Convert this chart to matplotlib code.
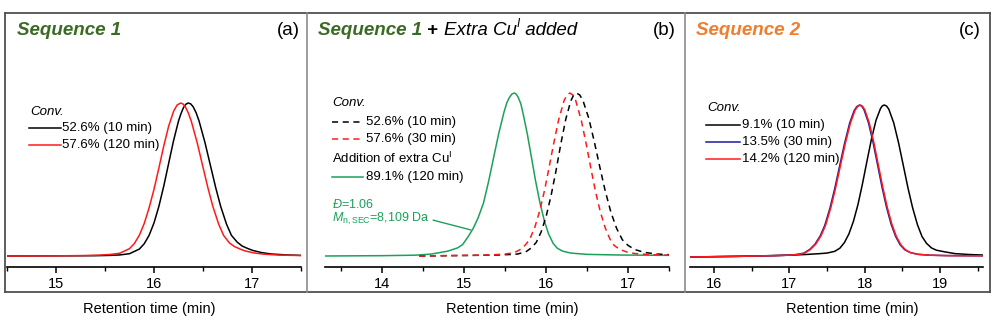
import matplotlib
matplotlib.use("Agg")
import matplotlib.pyplot as plt
from matplotlib.lines import Line2D

plt.rcParams['font.family'] = ['Liberation Sans', 'DejaVu Sans']
plt.rcParams['mathtext.fontset'] = 'custom'
plt.rcParams['mathtext.rm'] = 'Liberation Sans'
plt.rcParams['mathtext.it'] = 'Liberation Sans:italic'
plt.rcParams['mathtext.bf'] = 'Liberation Sans:bold'

# ---------------- data ----------------
# Panel (a): Sequence 1
a_black_x = [14.5, 15.0, 15.4, 15.55, 15.65, 15.75, 15.85, 15.90, 15.95, 16.00, 16.05, 16.10,
             16.15, 16.20, 16.25, 16.275, 16.30, 16.325, 16.35, 16.375, 16.40, 16.43, 16.46,
             16.52, 16.57, 16.63, 16.68, 16.74, 16.79, 16.85, 16.90, 16.96, 17.01, 17.1, 17.2,
             17.35, 17.5]
a_black_y = [0.0, 0.001, 0.002, 0.004, 0.007, 0.015, 0.045, 0.080, 0.135, 0.216, 0.325, 0.458,
             0.607, 0.755, 0.882, 0.930, 0.969, 0.992, 1.0, 0.994, 0.975, 0.936, 0.882,
             0.742, 0.607, 0.446, 0.325, 0.208, 0.135, 0.09, 0.065, 0.048, 0.036, 0.022, 0.013,
             0.007, 0.004]
a_red_x = [14.5, 15.0, 15.3, 15.45, 15.55, 15.65, 15.75, 15.80, 15.85, 15.90, 15.95, 16.00,
           16.05, 16.10, 16.15, 16.20, 16.235, 16.27, 16.295, 16.32, 16.35, 16.38, 16.44, 16.49,
           16.55, 16.60, 16.66, 16.71, 16.77, 16.82, 16.88, 16.93, 17.02, 17.12, 17.27, 17.5]
a_red_y = [0.0, 0.001, 0.003, 0.006, 0.01, 0.018, 0.048, 0.082, 0.135, 0.212, 0.315, 0.436,
           0.576, 0.72, 0.85, 0.946, 0.986, 1.0, 0.994, 0.975, 0.935, 0.882, 0.742, 0.607,
           0.446, 0.325, 0.208, 0.135, 0.085, 0.062, 0.045, 0.033, 0.02, 0.012, 0.006, 0.003]
a_labels = ["52.6% (10 min)", "57.6% (120 min)"]

# Panel (b): Sequence 1 + extra Cu(I)
b_green_x = [13.3, 14.0, 14.4, 14.6, 14.8, 14.92, 14.98, 15.05, 15.11, 15.17, 15.235, 15.30,
             15.36, 15.42, 15.485, 15.52, 15.55, 15.58, 15.61, 15.635, 15.66, 15.69, 15.715,
             15.77, 15.82, 15.87, 15.925, 15.98, 16.03, 16.085, 16.135, 16.2, 16.3, 16.5,
             16.9, 17.5]
b_green_y = [0.0, 0.002, 0.005, 0.012, 0.03, 0.05, 0.07, 0.12, 0.17, 0.235, 0.325, 0.463,
             0.607, 0.749, 0.882, 0.94, 0.971, 0.993, 1.0, 0.993, 0.972, 0.935, 0.882,
             0.749, 0.607, 0.463, 0.325, 0.212, 0.135, 0.078, 0.048, 0.03, 0.018, 0.01,
             0.006, 0.004]
b_red_x = [14.45, 15.0, 15.3, 15.5, 15.6, 15.65, 15.70, 15.75, 15.80, 15.86, 15.92, 15.98,
           16.03, 16.09, 16.15, 16.22, 16.255, 16.29, 16.325, 16.36, 16.43, 16.49, 16.55,
           16.60, 16.66, 16.72, 16.78, 16.83, 16.9, 17.0, 17.1, 17.3, 17.5]
b_red_y = [0.0, 0.004, 0.006, 0.012, 0.02, 0.03, 0.045, 0.07, 0.103, 0.174, 0.274, 0.402,
           0.528, 0.685, 0.83, 0.955, 0.988, 1.0, 0.988, 0.955, 0.83, 0.685, 0.528,
           0.402, 0.274, 0.174, 0.103, 0.065, 0.04, 0.022, 0.014, 0.008, 0.005]
b_black_x = [14.45, 15.0, 15.4, 15.55, 15.65, 15.75, 15.82, 15.88, 15.94, 16.0, 16.06, 16.12,
             16.18, 16.24, 16.30, 16.335, 16.37, 16.41, 16.45, 16.52, 16.59, 16.66, 16.72,
             16.79, 16.86, 16.93, 17.0, 17.08, 17.2, 17.35, 17.5]
b_black_y = [0.0, 0.003, 0.006, 0.009, 0.012, 0.025, 0.05, 0.084, 0.149, 0.243, 0.37, 0.522,
             0.69, 0.84, 0.95, 0.987, 1.0, 0.988, 0.953, 0.846, 0.697, 0.535, 0.402,
             0.27, 0.17, 0.10, 0.065, 0.04, 0.022, 0.012, 0.008]
b_labels = ["52.6% (10 min)", "57.6% (30 min)", "89.1% (120 min)"]

# Panel (c): Sequence 2
c_black_x = [15.68, 16.5, 17.0, 17.2, 17.4, 17.5, 17.6, 17.67, 17.73, 17.79, 17.85, 17.91,
             17.97, 18.03, 18.09, 18.15, 18.21, 18.235, 18.26, 18.29, 18.32, 18.385, 18.45,
             18.51, 18.575, 18.635, 18.70, 18.76, 18.82, 18.885, 18.95, 19.05, 19.2, 19.4,
             19.57]
c_black_y = [0.0, 0.006, 0.012, 0.016, 0.022, 0.026, 0.037, 0.058, 0.095, 0.152, 0.235, 0.345,
             0.482, 0.632, 0.778, 0.9, 0.978, 0.995, 1.0, 0.993, 0.972, 0.882, 0.749,
             0.607, 0.452, 0.325, 0.212, 0.135, 0.09, 0.06, 0.045, 0.035, 0.022, 0.016,
             0.013]
c_blue_x = [15.68, 16.3, 16.8, 16.99, 17.09, 17.19, 17.27, 17.34, 17.41, 17.47, 17.54, 17.60,
            17.67, 17.73, 17.80, 17.86, 17.895, 17.93, 17.96, 17.99, 18.05, 18.11, 18.17,
            18.23, 18.29, 18.35, 18.41, 18.47, 18.53, 18.6, 18.7, 18.85, 19.1, 19.57]
c_blue_y = [0.0, 0.004, 0.009, 0.012, 0.016, 0.025, 0.05, 0.085, 0.14, 0.209, 0.325, 0.447,
            0.607, 0.743, 0.882, 0.964, 0.99, 1.0, 0.992, 0.969, 0.882, 0.755, 0.607, 0.458,
            0.325, 0.216, 0.135, 0.08, 0.048, 0.03, 0.018, 0.012, 0.009, 0.008]
c_red_x = [15.68, 16.3, 16.8, 17.0, 17.1, 17.2, 17.28, 17.35, 17.42, 17.48, 17.55, 17.61,
           17.68, 17.74, 17.81, 17.87, 17.905, 17.94, 17.97, 18.0, 18.06, 18.12, 18.18, 18.24,
           18.30, 18.36, 18.42, 18.48, 18.54, 18.6, 18.7, 18.85, 19.1, 19.57]
c_red_y = [0.0, 0.004, 0.009, 0.012, 0.016, 0.025, 0.05, 0.085, 0.14, 0.209, 0.325, 0.447,
           0.607, 0.743, 0.882, 0.964, 0.99, 1.0, 0.992, 0.969, 0.882, 0.755, 0.607, 0.458,
           0.325, 0.216, 0.135, 0.08, 0.048, 0.03, 0.018, 0.012, 0.009, 0.008]
c_labels = ["9.1% (10 min)", "13.5% (30 min)", "14.2% (120 min)"]

# ---------------- styling ----------------
W, H = 996, 324
DKGREEN = '#3a6b24'
ORANGE = '#f07d2c'
GREEN = '#1ca05a'
RED = '#ff1a1a'
BLUE = '#1a1aa0'
LW = 1.1

fig = plt.figure(figsize=(W / 100, H / 100), dpi=100)


def fx(x):
    return x / W


def fy(y):
    return 1 - y / H


def make_ax(x0, x1, xlim, ylim, major, minor):
    ax = fig.add_axes([fx(x0), fy(267), fx(x1 - x0), (267 - 13) / H])
    ax.set_xlim(*xlim)
    ax.set_ylim(*ylim)
    for s in ['left', 'right', 'top']:
        ax.spines[s].set_visible(False)
    ax.spines['bottom'].set_linewidth(1.2)
    ax.set_yticks([])
    ax.set_xticks(major)
    ax.set_xticks(minor, minor=True)
    ax.tick_params(axis='x', which='major', direction='out', length=4, width=1.1,
                   labelsize=10.5, pad=3.5)
    ax.tick_params(axis='x', which='minor', direction='out', length=3, width=1.0)
    ax.patch.set_alpha(0)
    return ax


def fline(x0, x1, y, color, ls='-'):
    fig.add_artist(Line2D([fx(x0), fx(x1)], [fy(y), fy(y)], transform=fig.transFigure,
                          color=color, lw=LW, linestyle=ls))


def ftext(x, y, s, **kw):
    kw.setdefault('fontsize', 9.5)
    kw.setdefault('va', 'center')
    return fig.text(fx(x), fy(y), s, **kw)


# Panel a
axa = make_ax(7, 301, (14.5, 17.5), (-11 / 153, 1 + 90 / 153),
              [15, 16, 17], [14.5, 15.5, 16.5, 17.5])
axa.plot(a_black_x, a_black_y, color='black', lw=LW)
axa.plot(a_red_x, a_red_y, color=RED, lw=LW)

# Panel b
axb = make_ax(325, 669, (13.3, 17.5), (-11 / 163, 1 + 80 / 163),
              [14, 15, 16, 17], [13.5, 14.5, 15.5, 16.5, 17.5])
axb.plot(b_green_x, b_green_y, color=GREEN, lw=LW)
axb.plot(b_black_x, b_black_y, color='black', lw=LW, dashes=(4, 3))
axb.plot(b_red_x, b_red_y, color=RED, lw=LW, dashes=(4, 3))
axb.annotate('', xy=(15.08, 0.16), xytext=(14.62, 0.22),
             arrowprops=dict(arrowstyle='-', color=GREEN, lw=1.0, shrinkA=0, shrinkB=0))

# Panel c
axc = make_ax(690, 983, (15.68, 19.57), (-10 / 152, 1 + 92 / 152),
              [16, 17, 18, 19], [16.5, 17.5, 18.5, 19.5])
axc.plot(c_black_x, c_black_y, color='black', lw=LW)
axc.plot(c_blue_x, c_blue_y, color=BLUE, lw=LW)
axc.plot(c_red_x, c_red_y, color=RED, lw=LW)

# Frames
FR = '#505050'
for (xs, ys) in [([5, 990], [13, 13]), ([5, 990], [292, 292]), ([5, 5], [13, 292]),
                 ([990, 990], [13, 292])]:
    fig.add_artist(Line2D([fx(v) for v in xs], [fy(v) for v in ys],
                          transform=fig.transFigure, color=FR, lw=1.3))
for xd in [307, 685]:
    fig.add_artist(Line2D([fx(xd), fx(xd)], [fy(13), fy(292)],
                          transform=fig.transFigure, color='#8a8a8a', lw=1.2))

# Titles
TS = 13.5
TY = 35  # baseline pixel
ftext(17, TY, 'Sequence 1', fontsize=TS, fontweight='bold', fontstyle='italic',
      color=DKGREEN, va='baseline')
ftext(300, TY, '(a)', fontsize=TS, ha='right', va='baseline')
renderer = fig.canvas.get_renderer()
xcur = 318
pieces = [('Sequence 1', dict(fontweight='bold', fontstyle='italic', color=DKGREEN,
                              fontsize=TS), 0),
          (' + ', dict(fontweight='bold', color='black', fontsize=TS), 0),
          ('Extra Cu', dict(fontstyle='italic', color='black', fontsize=TS), 0),
          ('I', dict(fontstyle='italic', color='black', fontsize=8.5), -8),
          (' added', dict(fontstyle='italic', color='black', fontsize=TS), 0)]
for txt, kw, dy in pieces:
    t = ftext(xcur, TY + dy, txt, va='baseline', **kw)
    bb = t.get_window_extent(renderer=renderer)
    xcur += bb.width
ftext(676, TY, '(b)', fontsize=TS, ha='right', va='baseline')
ftext(696, TY, 'Sequence 2', fontsize=TS, fontweight='bold', fontstyle='italic',
      color=ORANGE, va='baseline')
ftext(981, TY, '(c)', fontsize=TS, ha='right', va='baseline')

# Legend panel a
ftext(30, 112, 'Conv.', fontstyle='italic')
fline(29, 61, 128, 'black')
ftext(62, 128, a_labels[0])
fline(29, 61, 145, RED)
ftext(62, 145, a_labels[1])

# Legend panel b
ftext(332, 103, 'Conv.', fontstyle='italic')
fline(332, 364, 122, 'black', ls=(0, (4, 3)))
ftext(366, 122, b_labels[0])
fline(332, 364, 139, RED, ls=(0, (4, 3)))
ftext(366, 139, b_labels[1])
ftext(332, 158, r'Addition of extra Cu$^{\mathrm{I}}$')
fline(332, 363, 177, GREEN)
ftext(366, 177, b_labels[2])
ftext(332, 204, r'$\mathit{Đ}$=1.06', color=GREEN, fontsize=9)
ftext(332, 219, r'$\mathit{M}_{\mathrm{n,SEC}}$=8,109 Da', color=GREEN, fontsize=9)

# Legend panel c
ftext(707, 108, 'Conv.', fontstyle='italic')
fline(706, 740, 125, 'black')
ftext(742, 125, c_labels[0])
fline(706, 740, 142, BLUE)
ftext(742, 142, c_labels[1])
fline(706, 740, 159, RED)
ftext(742, 159, c_labels[2])

# X labels
for xc in [149, 512, 852]:
    ftext(xc, 309, 'Retention time (min)', fontsize=10.5, ha='center')

fig.savefig('out.png', dpi=100, facecolor='white')
